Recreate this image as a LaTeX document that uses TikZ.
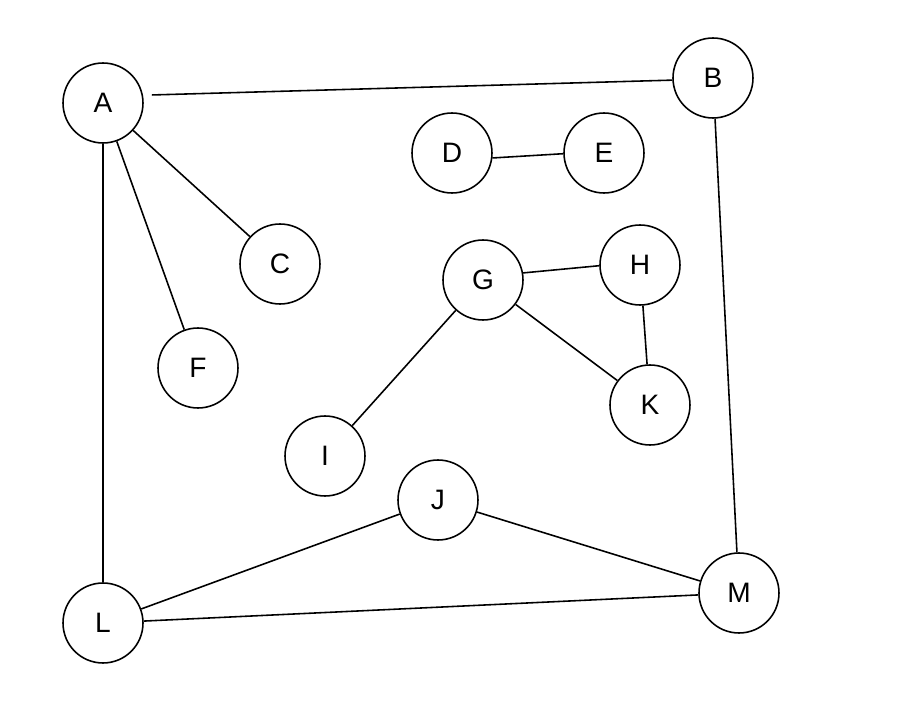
\documentclass[tikz,border=0pt]{standalone}
\usepackage{fontspec}
\setmainfont{Liberation Sans}

\begin{document}
\begin{tikzpicture}[x=0.02cm, y=-0.02cm, line width=0.9pt, main/.style = {draw, circle, minimum size=1.6cm, inner sep=0pt, font=\fontsize{16}{19}\selectfont}]
        \useasboundingbox (0,0) rectangle (904,716);
        \node[main] (A) at (103,103) {A};
        \node[main] (B) at (713,78) {B};
        \node[main] (C) at (280,264) {C};
        \node[main] (D) at (452,153) {D};
        \node[main] (E) at (604,153) {E};
        \node[main] (F) at (198,368) {F};
        \node[main] (G) at (483,280) {G};
        \node[main] (H) at (640,265) {H};
        \node[main] (I) at (325,456) {I};
        \node[main] (J) at (438,500) {J};
        \node[main] (K) at (650,405) {K};
        \node[main] (L) at (103,623) {L};
        \node[main] (M) at (739,593) {M};
        \draw[shorten <=5pt] (A.11) -- (B.183);
        \draw (A) -- (C);
        \draw (A) -- (F);
        \draw (A) -- (L);
        \draw (B) -- (M);
        \draw (D.-7) -- (E.181);
        \draw (G.10) -- (H.181);
        \draw (G) -- (K);
        \draw (G) -- (I);
        \draw (H) -- (K);
        \draw (J) -- (L);
        \draw (J) -- (M);
        \draw (L) -- (M);
    \end{tikzpicture}
\end{document}
